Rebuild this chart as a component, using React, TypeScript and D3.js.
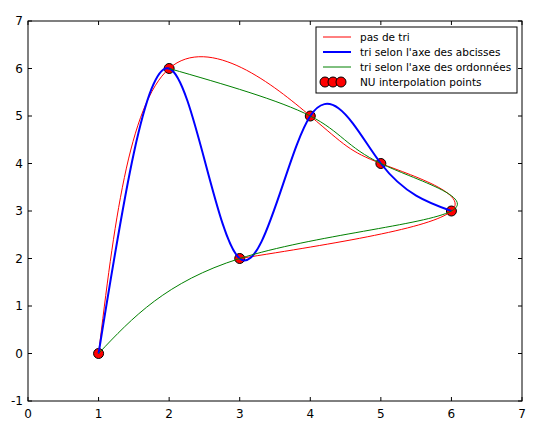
import React from 'react';
import * as d3 from 'd3';

const xs = [1, 2, 4, 5, 6, 3];
const ys = [0, 6, 5, 4, 3, 2];
const xTicks = [0, 1, 2, 3, 4, 5, 6, 7];
const yTicks = [-1, 0, 1, 2, 3, 4, 5, 6, 7];

const App: React.FC = () => {
  const ref = React.useRef<SVGSVGElement>(null);

  React.useEffect(() => {
    const svg = d3.select(ref.current);
    svg.selectAll('*').remove();
    const m = { left: 28, right: 21, top: 21, bottom: 30 };
    const W = 543, H = 431;
    const x = d3.scaleLinear().domain([0, 7]).range([m.left, W - m.right]);
    const y = d3.scaleLinear().domain([-1, 7]).range([H - m.bottom, m.top]);
    const font = 'DejaVu Sans, sans-serif';

    svg.append('rect').attr('width', W).attr('height', H).attr('fill', '#fff');

    const pts = xs.map((v, i) => [v, ys[i]] as [number, number]);
    const byX = [...pts].sort((a, b) => a[0] - b[0]);
    const byY = [...pts].sort((a, b) => a[1] - b[1]);
    const line = d3.line<[number, number]>().x(d => x(d[0])).y(d => y(d[1])).curve(d3.curveNatural);

    const clip = svg.append('defs').append('clipPath').attr('id', 'c');
    clip.append('rect').attr('x', x(0)).attr('y', y(7)).attr('width', x(7) - x(0)).attr('height', y(-1) - y(7));
    const g = svg.append('g').attr('clip-path', 'url(#c)');

    g.selectAll('circle').data(pts).enter().append('circle')
      .attr('cx', d => x(d[0])).attr('cy', d => y(d[1])).attr('r', 5)
      .attr('fill', 'red').attr('stroke', '#000').attr('stroke-width', 1);
    g.append('path').datum(pts).attr('d', line).attr('fill', 'none').attr('stroke', 'red').attr('stroke-width', 1);
    g.append('path').datum(byX).attr('d', line).attr('fill', 'none').attr('stroke', 'blue').attr('stroke-width', 2);
    g.append('path').datum(byY).attr('d', line).attr('fill', 'none').attr('stroke', 'green').attr('stroke-width', 1);

    svg.append('rect').attr('x', x(0)).attr('y', y(7)).attr('width', x(7) - x(0)).attr('height', y(-1) - y(7))
      .attr('fill', 'none').attr('stroke', '#000');

    xTicks.forEach(t => {
      svg.append('line').attr('x1', x(t)).attr('x2', x(t)).attr('y1', y(-1)).attr('y2', y(-1) - 4).attr('stroke', '#000');
      svg.append('line').attr('x1', x(t)).attr('x2', x(t)).attr('y1', y(7)).attr('y2', y(7) + 4).attr('stroke', '#000');
      svg.append('text').attr('x', x(t)).attr('y', y(-1) + 17).attr('text-anchor', 'middle')
        .attr('font-family', font).attr('font-size', 12).text(t);
    });
    yTicks.forEach(t => {
      svg.append('line').attr('x1', x(0)).attr('x2', x(0) + 4).attr('y1', y(t)).attr('y2', y(t)).attr('stroke', '#000');
      svg.append('line').attr('x1', x(7)).attr('x2', x(7) - 4).attr('y1', y(t)).attr('y2', y(t)).attr('stroke', '#000');
      svg.append('text').attr('x', x(0) - 5).attr('y', y(t) + 4).attr('text-anchor', 'end')
        .attr('font-family', font).attr('font-size', 12).text(t);
    });

    const lg = svg.append('g').attr('transform', 'translate(316,27)');
    lg.append('rect').attr('width', 201).attr('height', 66).attr('fill', '#fff').attr('stroke', '#000');
    const items = [
      { label: 'pas de tri', color: 'red', w: 1 },
      { label: "tri selon l'axe des abcisses", color: 'blue', w: 2 },
      { label: "tri selon l'axe des ordonnées", color: 'green', w: 1 },
    ];
    items.forEach((it, i) => {
      const yy = 10 + i * 15;
      lg.append('line').attr('x1', 7).attr('x2', 35).attr('y1', yy).attr('y2', yy).attr('stroke', it.color).attr('stroke-width', it.w);
      lg.append('text').attr('x', 44).attr('y', yy + 4).attr('font-family', font).attr('font-size', 10.5).text(it.label);
    });
    [9, 17, 25].forEach(cx => {
      lg.append('circle').attr('cx', cx).attr('cy', 55).attr('r', 5).attr('fill', 'red').attr('stroke', '#000');
    });
    lg.append('text').attr('x', 44).attr('y', 59).attr('font-family', font).attr('font-size', 10.5).text('NU interpolation points');
  }, []);

  return <svg ref={ref} width={543} height={431} style={{ position: 'absolute', left: 0, top: 0 }} />;
};

export default App;
